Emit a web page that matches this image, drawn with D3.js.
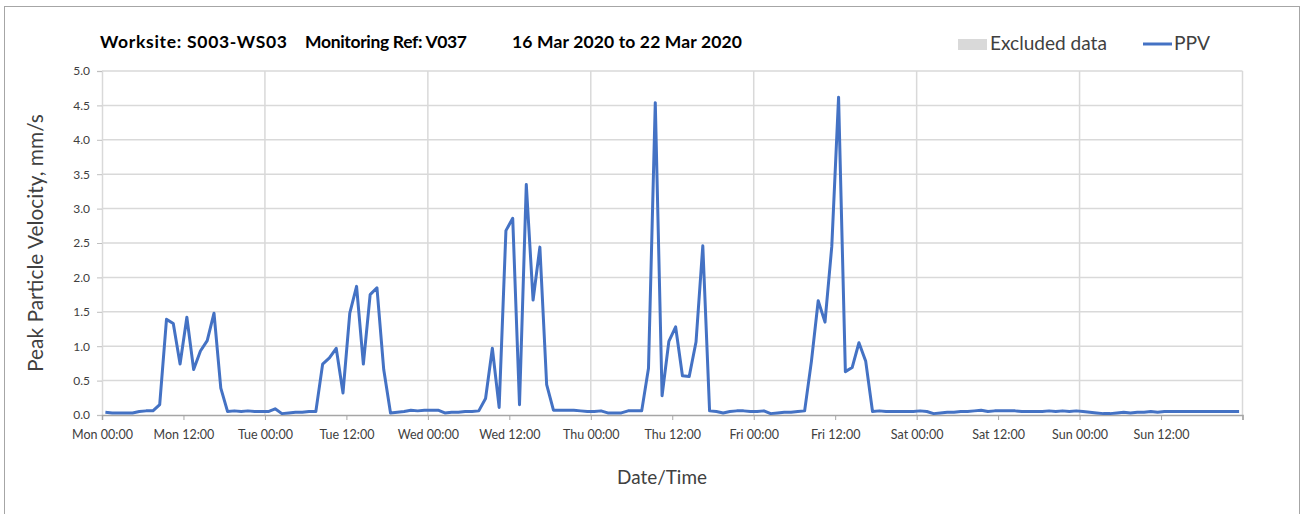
<!DOCTYPE html>
<html>
<head>
<meta charset="utf-8">
<script src="https://cdn.jsdelivr.net/npm/d3@7"></script>
<style>
  html, body { margin: 0; padding: 0; background: #fff; }
  svg { display: block; }
  text { font-family: Lato, "Open Sans", "DejaVu Sans", sans-serif; }
</style>
</head>
<body>
<svg id="chart" width="1307" height="514"></svg>
<script>
// ---- data ----
const titleParts = ["Worksite: S003-WS03", "Monitoring Ref: V037", "16 Mar 2020 to 22 Mar 2020"];
const startDate = "2020-03-16T00:30:00Z";   // first reading (hourly thereafter)
const ppvValues = [
  0.04,0.03,0.03,0.03,0.03,0.05,0.06,0.06,0.15,1.39,1.33,0.74,1.42,0.66,0.93,1.08,1.48,0.39,0.05,0.06,0.05,0.06,0.05,0.05,
  0.05,0.09,0.02,0.03,0.04,0.04,0.05,0.05,0.74,0.83,0.97,0.32,1.48,1.87,0.74,1.75,1.85,0.66,0.03,0.04,0.05,0.07,0.06,0.07,
  0.07,0.07,0.03,0.04,0.04,0.05,0.05,0.06,0.24,0.97,0.11,2.68,2.86,0.15,3.35,1.67,2.44,0.44,0.07,0.07,0.07,0.07,0.06,0.05,
  0.05,0.06,0.03,0.03,0.03,0.06,0.06,0.06,0.68,4.54,0.28,1.07,1.28,0.57,0.56,1.06,2.46,0.06,0.05,0.03,0.05,0.06,0.06,0.05,
  0.05,0.06,0.02,0.03,0.04,0.04,0.05,0.06,0.78,1.66,1.35,2.45,4.62,0.63,0.69,1.05,0.78,0.05,0.06,0.05,0.05,0.05,0.05,0.05,
  0.06,0.05,0.02,0.03,0.04,0.04,0.05,0.05,0.06,0.07,0.05,0.06,0.06,0.06,0.06,0.05,0.05,0.05,0.05,0.06,0.05,0.06,0.05,0.06,
  0.05,0.04,0.03,0.02,0.02,0.03,0.04,0.03,0.04,0.04,0.05,0.04,0.05,0.05,0.05,0.05,0.05,0.05,0.05,0.05,0.05,0.05,0.05,0.05
];
const xDomain = ["2020-03-16T00:00:00Z", "2020-03-23T00:00:00Z"];
const xTickLabels = ["Mon 00:00","Mon 12:00","Tue 00:00","Tue 12:00","Wed 00:00","Wed 12:00","Thu 00:00",
                     "Thu 12:00","Fri 00:00","Fri 12:00","Sat 00:00","Sat 12:00","Sun 00:00","Sun 12:00"];
const yTicks = [0,0.5,1,1.5,2,2.5,3,3.5,4,4.5,5];
const legendLabels = ["Excluded data", "PPV"];
const xTitle = "Date/Time";
const yTitle = "Peak Particle Velocity, mm/s";

// ---- layout ----
const svg = d3.select("#chart");
const L = 102, R = 1242.5, T = 71, B = 415;
const HOUR = 3600 * 1000;
const t0 = new Date(startDate).getTime();
const data = ppvValues.map((v, i) => ({ t: new Date(t0 + i * HOUR), v }));

const x = d3.scaleUtc().domain(xDomain.map(d => new Date(d))).range([L, R]);
const y = d3.scaleLinear().domain([0, 5]).range([B, T]);

const dStart = new Date(xDomain[0]).getTime();
const majorTicks = d3.range(0, 8).map(d => new Date(dStart + d * 24 * HOUR));
const allTicks = d3.range(0, 15).map(i => new Date(dStart + i * 12 * HOUR));

// outer frame
svg.append("rect").attr("x", 4.5).attr("y", 6.5).attr("width", 1295).attr("height", 520)
  .attr("fill", "none").attr("stroke", "#a6a6a6").attr("stroke-width", 1);

// horizontal gridlines
svg.append("g").selectAll("line").data(yTicks.filter(d => d > 0)).join("line")
  .attr("x1", L).attr("x2", R).attr("y1", d => y(d)).attr("y2", d => y(d))
  .attr("stroke", "#d9d9d9").attr("stroke-width", 1.5);
// vertical gridlines (days)
svg.append("g").selectAll("line").data(majorTicks.slice(1)).join("line")
  .attr("x1", d => x(d)).attr("x2", d => x(d)).attr("y1", T).attr("y2", B)
  .attr("stroke", "#d9d9d9").attr("stroke-width", 1.5);

// y axis
const yAxis = d3.axisLeft(y).tickValues(yTicks).tickFormat(d3.format(".1f")).tickSize(5).tickPadding(7);
const gy = svg.append("g").attr("transform", `translate(${L},0)`).call(yAxis);
gy.select(".domain").attr("stroke", "#d9d9d9").attr("stroke-width", 1.5);
gy.selectAll(".tick line").attr("stroke", "#bfbfbf");
gy.selectAll("text").attr("font-size", 12).attr("fill", "#404040").attr("font-family", "Lato, sans-serif");

// x axis
const xAxis = d3.axisBottom(x).tickValues(allTicks)
  .tickFormat((d, i) => xTickLabels[i] || "").tickSize(5).tickPadding(10);
const gx = svg.append("g").attr("transform", `translate(0,${B})`).call(xAxis);
gx.select(".domain").attr("stroke", "#a6a6a6").attr("stroke-width", 1.5);
gx.selectAll(".tick line").attr("stroke", "#a6a6a6");
gx.selectAll("text").attr("font-size", 12.5).attr("fill", "#404040").attr("font-family", "Lato, sans-serif");

// line
const line = d3.line().x(d => x(d.t)).y(d => y(d.v));
svg.append("path").datum(data).attr("d", line)
  .attr("fill", "none").attr("stroke", "#4472C4").attr("stroke-width", 3)
  .attr("stroke-linejoin", "round").attr("stroke-linecap", "butt");

// fit helpers
function fit(sel, target) {
  const w = sel.node().getComputedTextLength();
  const fs = parseFloat(sel.attr("font-size"));
  if (w > 0) sel.attr("font-size", fs * target / w);
}
function spread(sel, target) {
  const w = sel.node().getComputedTextLength();
  const n = sel.text().length;
  if (w > 0 && n > 1) sel.attr("letter-spacing", (target - w) / (n - 1));
}

// title (uniform size, spacing adjusted to reference widths)
const titleX = [100, 305, 512], titleW = [187, 162, 230];
titleParts.forEach((s, i) => {
  const t = svg.append("text").attr("x", titleX[i]).attr("y", 48)
    .attr("font-size", 17.5).attr("font-weight", "bold").attr("fill", "#000").text(s);
  spread(t, titleW[i]);
});

// legend
svg.append("rect").attr("x", 958).attr("y", 39).attr("width", 29).attr("height", 11).attr("fill", "#d9d9d9");
const lg1 = svg.append("text").attr("x", 990).attr("y", 50).attr("font-size", 17).attr("fill", "#404040").text(legendLabels[0]);
fit(lg1, 117);
svg.append("line").attr("x1", 1143).attr("x2", 1172).attr("y1", 44).attr("y2", 44)
  .attr("stroke", "#4472C4").attr("stroke-width", 3);
const lg2 = svg.append("text").attr("x", 1174).attr("y", 50).attr("font-size", 17).attr("fill", "#404040").text(legendLabels[1]);
fit(lg2, 36);

// axis titles
const xt = svg.append("text").attr("x", 662).attr("y", 484).attr("text-anchor", "middle")
  .attr("font-size", 17).attr("fill", "#404040").text(xTitle);
fit(xt, 90);
const yt = svg.append("text").attr("transform", "translate(43,243) rotate(-90)").attr("text-anchor", "middle")
  .attr("font-size", 17).attr("fill", "#404040").text(yTitle);
fit(yt, 258);
</script>
</body>
</html>
